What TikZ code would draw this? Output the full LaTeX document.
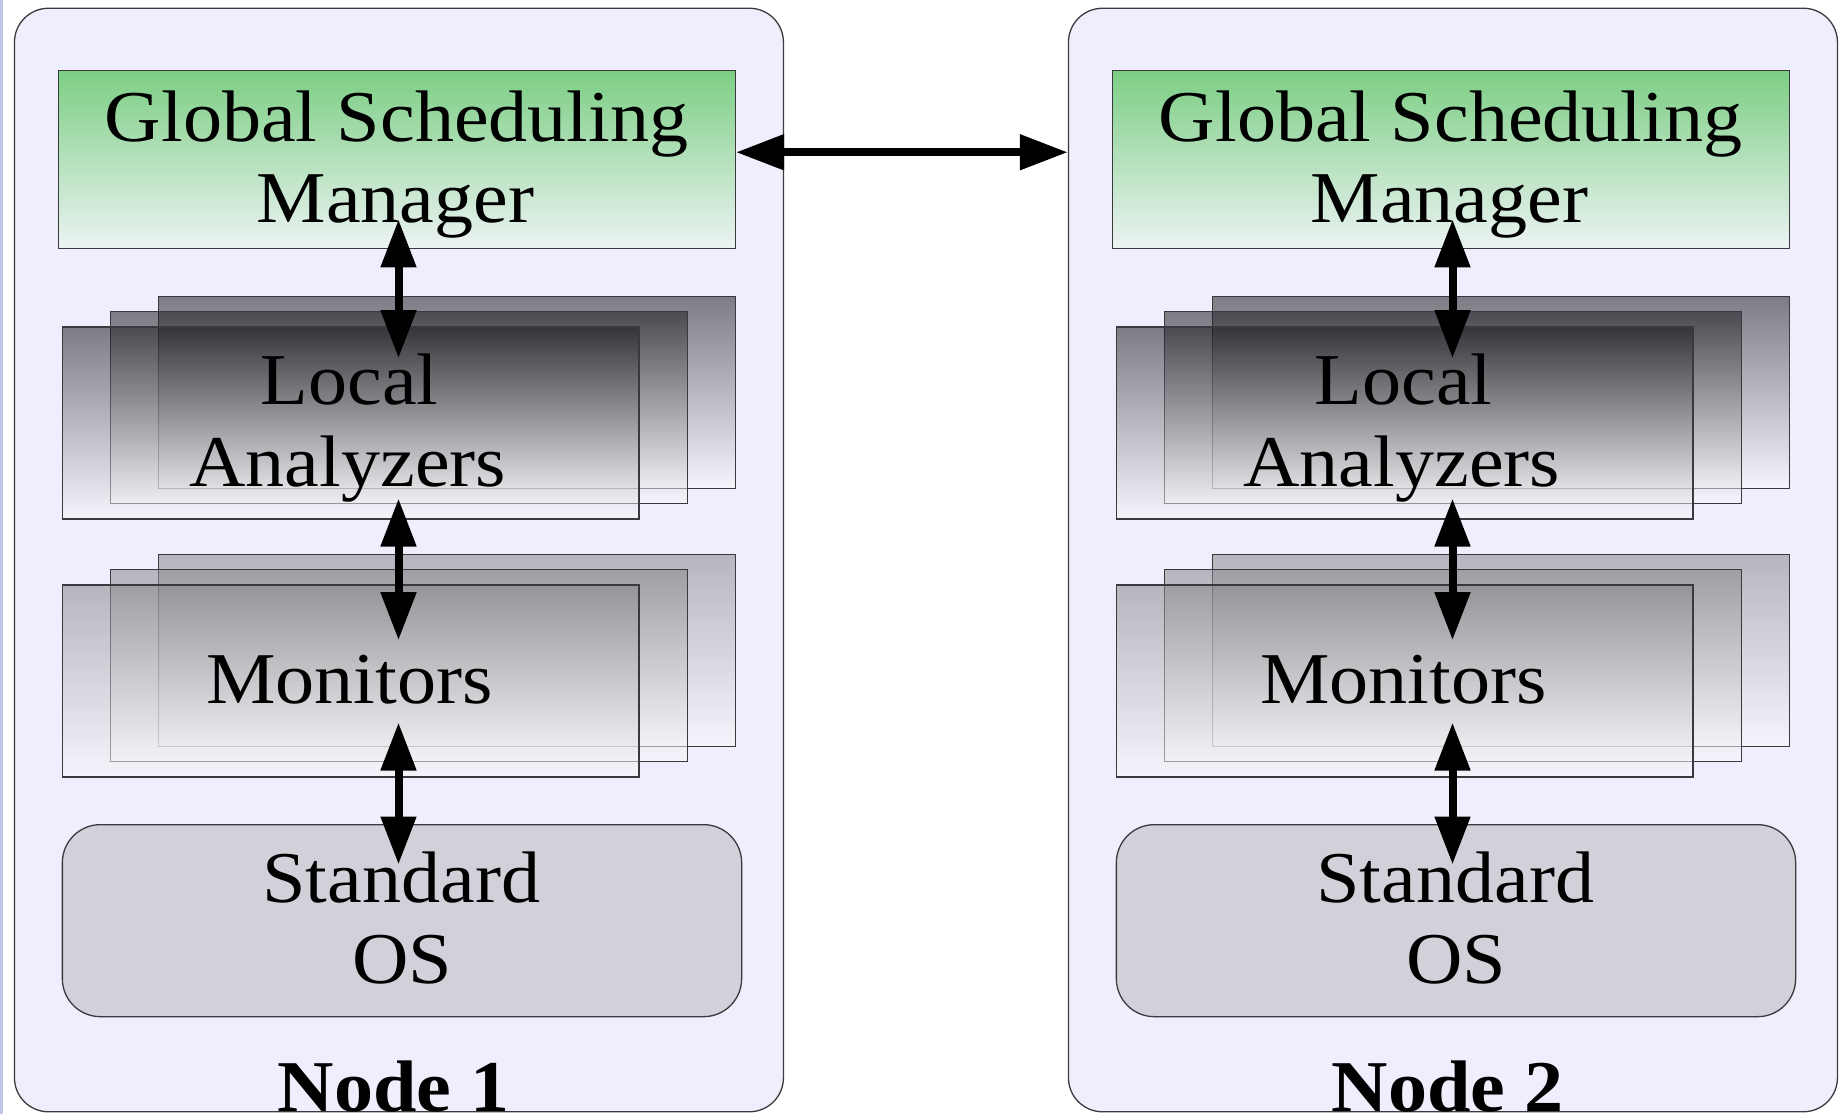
\documentclass[tikz,border=0pt]{standalone}
\usepackage{fontspec}
\setmainfont[FakeStretch=1.07]{Liberation Serif}
\usetikzlibrary{arrows.meta,calc}

\definecolor{panel}{RGB}{238,238,252}
\definecolor{panelline}{RGB}{58,58,62}
\definecolor{gsmtop}{RGB}{124,206,132}
\definecolor{gsmbot}{RGB}{236,243,243}
\definecolor{latop}{RGB}{21,21,26}
\definecolor{labot}{RGB}{250,250,252}
\definecolor{montop}{RGB}{136,136,140}
\definecolor{monbot}{RGB}{250,250,252}
\definecolor{osfill}{RGB}{209,209,218}
\definecolor{edgestrip}{RGB}{196,196,228}

\begin{document}
\begin{tikzpicture}[x=1pt,y=-1pt,
  panelbox/.style={draw=panelline, line width=1.3pt, fill=panel,
    rounded corners=34pt, inner sep=0pt, minimum width=769pt,
    minimum height=1103.5pt, anchor=north west},
  gsmbox/.style={draw=panelline, line width=1.3pt, top color=gsmtop,
    bottom color=gsmbot, inner sep=0pt, minimum width=677pt,
    minimum height=178pt, anchor=north west},
  labox/.style={draw=panelline, line width=1.3pt, top color=latop,
    bottom color=labot, fill opacity=0.52, inner sep=0pt,
    minimum width=576.5pt, minimum height=192pt, anchor=north west},
  monbox/.style={draw=panelline, line width=1.3pt, top color=montop,
    bottom color=monbot, fill opacity=0.55, inner sep=0pt,
    minimum width=576.5pt, minimum height=192pt, anchor=north west},
  osbox/.style={draw=panelline, line width=1.3pt, fill=osfill,
    rounded corners=38pt, inner sep=0pt, minimum width=679.3pt,
    minimum height=192pt, anchor=north west},
  lbl/.style={font=\fontsize{73pt}{80pt}\selectfont, inner sep=0pt,
    anchor=base},
  conn/.style={{Triangle[length=48pt,width=34pt]}-{Triangle[length=48pt,width=34pt]},
    line width=8pt, black}]

\useasboundingbox (0,0) rectangle (1840,1114);
\fill[edgestrip] (0,0) rectangle (2.6,1114);

\foreach \n/\dx in {1/0,2/1054}{
  \begin{scope}[xshift=\dx pt]
    % cluster node frame
    \node[panelbox] (node\n) at (13.8,7.6) {};
    % global scheduling manager
    \node[gsmbox] (gsm\n) at (57.7,69.6) {};
    % stacked local analyzers
    \node[labox] (lab\n) at (158,295.7) {};
    \node[labox] (lam\n) at (110,311) {};
    \node[labox] (laf\n) at (61.7,326.2) {};
    % stacked monitors
    \node[monbox] (mob\n) at (158,553.9) {};
    \node[monbox] (mom\n) at (110,569) {};
    \node[monbox] (mof\n) at (61.7,584.2) {};
    % operating system
    \node[osbox] (os\n) at (61.7,824) {};

    % texts
    \node[lbl] (gsmt\n) at (396.7,141) {Global Scheduling};
    \node[lbl] (gsmu\n) at (395.5,222) {Manager};
    \node[lbl] (lat\n) at (349.7,404) {Local};
    \node[lbl] (lau\n) at (347.8,486) {Analyzers};
    \node[lbl] (mot\n) at (349.5,703) {Monitors};
    \node[lbl] (ost\n) at (401.3,902.5) {Standard};
    \node[lbl] (osu\n) at (402,983) {OS};
    \node[lbl, font=\fontsize{73pt}{80pt}\selectfont\bfseries] (nodet\n) at (394,1111.5) {Node \n};

    % vertical links inside the node
    \coordinate (ax\n) at (398.5,0);
    \draw[conn] ($(ax\n |- gsm\n.south)+(0,-29.5)$) -- ($(ax\n |- laf\n.north)+(0,32)$);
    \draw[conn] ($(ax\n |- laf\n.south)+(0,-21)$) -- ($(ax\n |- mof\n.north)+(0,56)$);
    \draw[conn] ($(ax\n |- mof\n.south)+(0,-55)$) -- ($(ax\n |- os\n.north)+(0,40.5)$);
  \end{scope}
}

% link between the two global scheduling managers
\coordinate (hl) at ($(gsm1.east)+(0,-7)$);
\draw[conn] (hl) -- (hl -| node2.west);

\end{tikzpicture}
\end{document}
